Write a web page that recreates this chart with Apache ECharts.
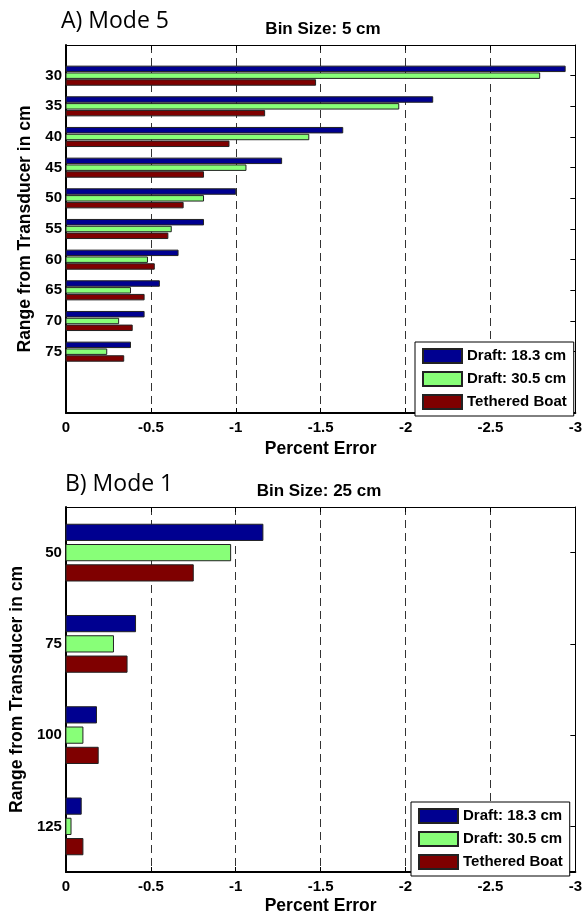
<!DOCTYPE html>
<html>
<head>
<meta charset="utf-8">
<script src="https://cdn.jsdelivr.net/npm/echarts@6/dist/echarts.min.js"></script>
<style>
  html, body { margin: 0; padding: 0; background: #fff; }
  #chart { width: 585px; height: 916px; }
</style>
</head>
<body>
<div id="chart"></div>
<script>
// Panel A: Mode 5, bin size 5 cm
const rangesA = [30, 35, 40, 45, 50, 55, 60, 65, 70, 75];
const draft183A = [-2.94, -2.16, -1.63, -1.27, -1.00, -0.81, -0.66, -0.55, -0.46, -0.38];
const draft305A = [-2.79, -1.96, -1.43, -1.06, -0.81, -0.62, -0.48, -0.38, -0.31, -0.24];
const tetheredA = [-1.47, -1.17, -0.96, -0.81, -0.69, -0.60, -0.52, -0.46, -0.39, -0.34];

// Panel B: Mode 1, bin size 25 cm
const rangesB = [50, 75, 100, 125];
const draft183B = [-1.16, -0.41, -0.18, -0.09];
const draft305B = [-0.97, -0.28, -0.10, -0.03];
const tetheredB = [-0.75, -0.36, -0.19, -0.10];

const seriesNames = ['Draft: 18.3 cm', 'Draft: 30.5 cm', 'Tethered Boat'];
const seriesColors = ['#000090', '#88ff78', '#7f0000'];

const chart = echarts.init(document.getElementById('chart'), null, { renderer: 'canvas' });

const tickFont = { fontFamily: 'Liberation Sans, Arial, sans-serif', fontWeight: 'bold', fontSize: 15, color: '#000' };
const nameFont = { fontFamily: 'Liberation Sans, Arial, sans-serif', fontWeight: 'bold', fontSize: 17.5, color: '#000' };

// Grouped horizontal bars: three bars per range bin, spaced like a grouped bar plot
function groupedBar(name, idx, ranges, values, step, gridIdx) {
  const slot = step * 2 / 9;          // distance between bar centres in a group
  const half = slot * 0.4;            // half bar thickness
  const offset = (idx - 1) * slot;
  return {
    type: 'custom',
    name: name,
    xAxisIndex: gridIdx * 2,
    yAxisIndex: gridIdx * 2,
    itemStyle: { color: seriesColors[idx], borderColor: '#222', borderWidth: 1 },
    encode: { x: 0, y: 1 },
    data: ranges.map((r, i) => [values[i], r]),
    renderItem: function (params, api) {
      const v = api.value(0);
      const c = api.value(1);
      const p0 = api.coord([0, c + offset - half]);
      const p1 = api.coord([v, c + offset + half]);
      return {
        type: 'rect',
        shape: { x: p0[0], y: p0[1], width: p1[0] - p0[0], height: p1[1] - p0[1] },
        style: api.style()
      };
    }
  };
}

function xAxes(gridIdx, nameGap) {
  return [
    {
      type: 'value', gridIndex: gridIdx, min: -3, max: 0, interval: 0.5, inverse: true,
      position: 'bottom',
      name: 'Percent Error', nameLocation: 'middle', nameGap: nameGap, nameTextStyle: nameFont,
      axisLine: { show: true, onZero: false, lineStyle: { color: '#000', width: 2 } },
      axisTick: { show: true, inside: true, length: 5, lineStyle: { color: '#000' } },
      axisLabel: Object.assign({ margin: 7 }, tickFont),
      splitLine: { show: true, lineStyle: { color: '#333', width: 1, type: [8, 5] } }
    },
    {
      type: 'value', gridIndex: gridIdx, min: -3, max: 0, interval: 0.5, inverse: true,
      position: 'top',
      axisLine: { show: true, onZero: false, lineStyle: { color: '#000', width: 1 } },
      axisTick: { show: true, inside: true, length: 5, lineStyle: { color: '#000' } },
      axisLabel: { show: false },
      splitLine: { show: false }
    }
  ];
}

function yAxes(gridIdx, min, max, step, ticks, nameGap) {
  return [
    {
      type: 'value', gridIndex: gridIdx, min: min, max: max, interval: step, inverse: true,
      position: 'left',
      name: 'Range from Transducer in cm', nameLocation: 'middle', nameGap: nameGap,
      nameTextStyle: nameFont,
      axisLine: { show: true, onZero: false, lineStyle: { color: '#000', width: 2 } },
      axisTick: { show: true, inside: true, length: 5, customValues: ticks, lineStyle: { color: '#000' } },
      axisLabel: Object.assign({
        margin: 4, customValues: ticks,
        formatter: v => (ticks.indexOf(v) >= 0 ? String(v) : '')
      }, tickFont),
      splitLine: { show: false }
    },
    {
      type: 'value', gridIndex: gridIdx, min: min, max: max, interval: step, inverse: true,
      position: 'right',
      axisLine: { show: true, onZero: false, lineStyle: { color: '#000', width: 1 } },
      axisTick: { show: true, inside: true, length: 5, customValues: ticks, lineStyle: { color: '#000' } },
      axisLabel: { show: false },
      splitLine: { show: false }
    }
  ];
}

function legendBox(left, top) {
  return {
    left: left, top: top, orient: 'vertical',
    data: seriesNames,
    selectedMode: false,
    icon: 'rect',
    itemWidth: 39, itemHeight: 14, itemGap: 7,
    padding: [6, 7, 6, 7],
    backgroundColor: '#fff',
    borderColor: '#000', borderWidth: 1, borderRadius: 0,
    textStyle: { fontFamily: 'Liberation Sans, Arial, sans-serif', fontWeight: 'bold', fontSize: 15, color: '#000', padding: [0, 0, 0, 0] }
  };
}

const headFont = '23px "Open Sans", sans-serif';
const binFont = 'bold 17px "Liberation Sans", Arial, sans-serif';

const option = {
  animation: false,
  backgroundColor: '#fff',
  grid: [
    { left: 66, top: 45, width: 514, height: 368, show: false },
    { left: 62, top: 507, width: 514, height: 368, show: false }
  ],
  xAxis: xAxes(0, 27).concat(xAxes(1, 25)),
  yAxis: yAxes(0, 25, 85, 5, rangesA, 24).concat(yAxes(1, 37.5, 137.5, 12.5, rangesB, 37)),
  legend: [legendBox(415, 342), legendBox(411, 802)],
  graphic: [
    { type: 'text', x: 61, y: 21, style: { text: 'A) Mode 5', font: headFont, fill: '#000', align: 'left', verticalAlign: 'middle' } },
    { type: 'text', x: 323, y: 29, style: { text: 'Bin Size: 5 cm', font: binFont, fill: '#000', align: 'center', verticalAlign: 'middle' } },
    { type: 'text', x: 65, y: 484.5, style: { text: 'B) Mode 1', font: headFont, fill: '#000', align: 'left', verticalAlign: 'middle' } },
    { type: 'text', x: 319, y: 491, style: { text: 'Bin Size: 25 cm', font: binFont, fill: '#000', align: 'center', verticalAlign: 'middle' } }
  ],
  series: [
    groupedBar(seriesNames[0], 0, rangesA, draft183A, 5, 0),
    groupedBar(seriesNames[1], 1, rangesA, draft305A, 5, 0),
    groupedBar(seriesNames[2], 2, rangesA, tetheredA, 5, 0),
    groupedBar(seriesNames[0], 0, rangesB, draft183B, 25, 1),
    groupedBar(seriesNames[1], 1, rangesB, draft305B, 25, 1),
    groupedBar(seriesNames[2], 2, rangesB, tetheredB, 25, 1)
  ]
};

chart.setOption(option);
</script>
</body>
</html>
